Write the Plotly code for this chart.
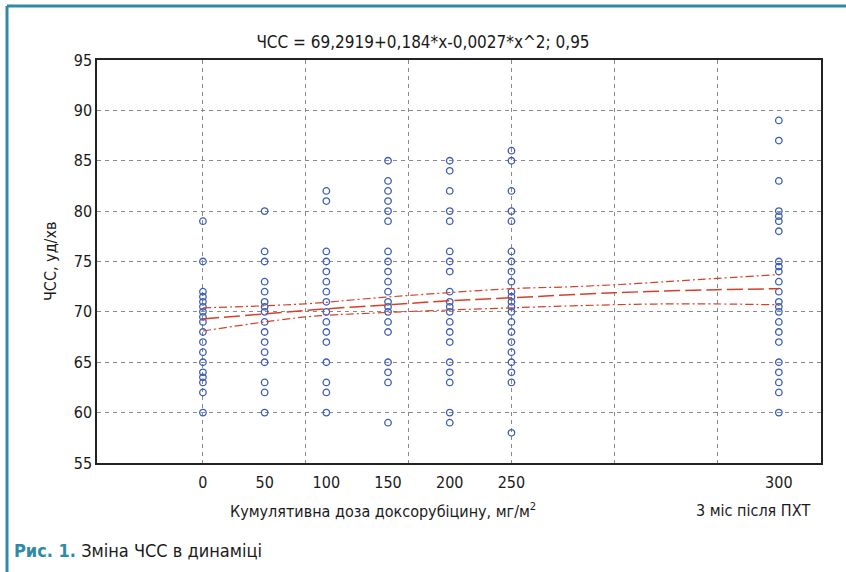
import plotly.graph_objects as go

# dose columns: axis position, tick label and heart rates (bpm)
x_pos = [0, 3, 6, 9, 12, 15, 28]
x_labels = ["0", "50", "100", "150", "200", "250", "300"]

hr_0 = [79, 75, 72, 71.5, 71, 70.5, 70, 69.5, 69, 68, 67, 66, 65, 64, 63.5, 63, 62, 60]
hr_50 = [80, 76, 75, 73, 72, 71, 70.5, 70, 69, 68, 67, 66, 65, 63, 62, 60]
hr_100 = [82, 81, 76, 75, 74, 73, 72, 71, 70, 69, 68, 67, 65, 63, 62, 60]
hr_150 = [85, 83, 82, 81, 80, 79, 76, 75, 74, 73, 72, 71, 70.5, 70, 69, 68, 65, 64, 63, 59]
hr_200 = [85, 84, 82, 80, 79, 76, 75, 74, 72, 71, 70.5, 70, 69, 68, 67, 65, 64, 63, 60, 59]
hr_250 = [86, 85, 82, 80, 79, 76, 75, 74, 73, 72, 71.5, 71, 70.5, 70, 69, 68, 67, 66, 65, 64, 63, 58]
hr_3m = [89, 87, 83, 80, 79.5, 79, 78, 75, 74.5, 74, 73, 72, 71, 70.5, 70, 69, 68, 67, 65, 64, 63, 62, 60]
columns = [hr_0, hr_50, hr_100, hr_150, hr_200, hr_250, hr_3m]

# fitted curve and 0.95 band
fit_x = [0, 3, 6, 9, 12, 15, 20, 25, 28]
fit_y = [69.3, 69.8, 70.3, 70.7, 71.1, 71.4, 71.9, 72.2, 72.3]
band_x = [0, 5, 8.5, 15, 18, 21, 24, 28]
band_hi = [70.4, 70.8, 71.4, 72.3, 72.5, 72.8, 73.2, 73.7]
band_lo = [68.1, 69.5, 69.9, 70.4, 70.6, 70.75, 70.8, 70.7]

grid_x = [0, 5, 10, 15, 20, 25]

FONT = "Liberation Sans Narrow, DejaVu Sans Condensed, Arial Narrow, DejaVu Sans, sans-serif"
BLUE = "#3b5cb8"
RED = "#d4412b"
TEAL = "#2f8aa6"
XR = [-5.15, 30.05]

pts_x, pts_y = [], []
for xp, col in zip(x_pos, columns):
    pts_x += [xp] * len(col)
    pts_y += col

fig = go.Figure()
fig.add_trace(go.Scatter(x=pts_x, y=pts_y, mode="markers",
                         marker=dict(symbol="circle-open", size=6.5, color=BLUE,
                                     line=dict(width=1.3, color=BLUE)),
                         showlegend=False, xaxis="x", yaxis="y"))
fig.add_trace(go.Scatter(x=fit_x, y=fit_y, mode="lines", line_shape="spline",
                         line=dict(color=RED, width=1.5, dash="16px,5px"),
                         showlegend=False, xaxis="x2", yaxis="y"))
for band in (band_hi, band_lo):
    fig.add_trace(go.Scatter(x=band_x, y=band, mode="lines", line_shape="spline",
                             line=dict(color=RED, width=1.2, dash="8px,3px,2px,3px"),
                             showlegend=False, xaxis="x2", yaxis="y"))

grid = dict(gridcolor="#8a8a8a", gridwidth=1, griddash="4px,4px")
fig.update_layout(
    width=846, height=572,
    paper_bgcolor="white", plot_bgcolor="white",
    margin=dict(l=97, r=25, t=60, b=109, autoexpand=False),
    font=dict(family=FONT, size=16, color="#1a1a1a"),
    xaxis=dict(range=XR, tickvals=grid_x, showticklabels=False, ticks="",
               showgrid=True, zeroline=False, showline=True, mirror=True,
               linecolor="#222", linewidth=1.5, **grid),
    xaxis2=dict(range=XR, overlaying="x", anchor="y", side="bottom",
                tickvals=x_pos, ticktext=x_labels, ticks="", showgrid=False,
                zeroline=False, showline=False, tickfont=dict(size=16),
                ticklabelstandoff=8),
    yaxis=dict(range=[55, 95], dtick=5, ticks="", showgrid=True, zeroline=False,
               showline=True, mirror=True, linecolor="#222", linewidth=1.5,
               tickfont=dict(size=16), **grid),
    title=dict(text="ЧСС = 69,2919+0,184*x-0,0027*x^2; 0,95", x=0.5, xanchor="center",
               y=1 - 42 / 572, yanchor="middle", font=dict(size=17)),
)

fig.add_annotation(text="ЧСС, уд/хв", textangle=-90, xref="paper", yref="paper",
                   x=(50 - 97) / 724, y=(463 - 262) / 403, showarrow=False,
                   xanchor="center", yanchor="middle", font=dict(size=16))
fig.add_annotation(text="Кумулятивна доза доксорубіцину, мг/м<sup>2</sup>",
                   xref="paper", yref="paper", x=(383 - 97) / 724, y=(463 - 510) / 403,
                   xanchor="center", yanchor="middle", showarrow=False, font=dict(size=16))
fig.add_annotation(text="3 міс після ПХТ", xref="paper", yref="paper",
                   x=(753 - 97) / 724, y=(463 - 510) / 403, showarrow=False,
                   xanchor="center", yanchor="middle", font=dict(size=16))
fig.add_annotation(text=f"<b><span style='color:{TEAL}'>Рис. 1.</span></b> Зміна ЧСС в динаміці",
                   xref="paper", yref="paper", x=(12 - 97) / 724, y=(463 - 550) / 403,
                   xanchor="left", yanchor="middle", showarrow=False, font=dict(size=18))

# teal frame of the figure box
fig.add_shape(type="line", xref="paper", yref="paper",
              x0=(7 - 97) / 724, x1=(7 - 97) / 724, y0=(463 - 6) / 403, y1=(463 - 575) / 403,
              line=dict(color=TEAL, width=3))
fig.add_shape(type="line", xref="paper", yref="paper",
              x0=(7 - 97) / 724, x1=(849 - 97) / 724, y0=(463 - 6) / 403, y1=(463 - 6) / 403,
              line=dict(color=TEAL, width=3))

fig.write_html("out.html", config={"displayModeBar": False},
               post_script="document.body.style.margin='0';")
